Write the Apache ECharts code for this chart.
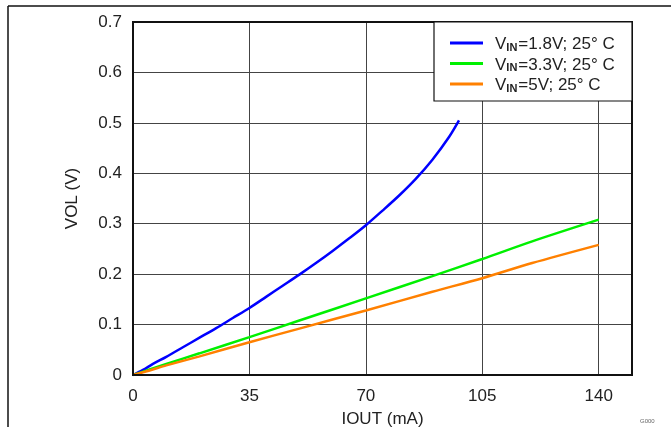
<!DOCTYPE html>
<html>
<head>
<meta charset="utf-8">
<script src="https://cdn.jsdelivr.net/npm/echarts@6/dist/echarts.min.js"></script>
<style>html,body{margin:0;padding:0;background:#fff}#c{width:671px;height:427px}</style>
</head>
<body>
<div id="c"></div>
<script>
const xTicks = [0, 35, 70, 105, 140];
const yTicks = [0, 0.1, 0.2, 0.3, 0.4, 0.5, 0.6, 0.7];
const seriesNames = ['VIN=1.8V; 25° C', 'VIN=3.3V; 25° C', 'VIN=5V; 25° C'];
const blueX = [0, 3, 6, 10, 15, 20, 25, 30, 35, 40, 45, 50, 55, 60, 65, 70, 75, 80, 85, 90, 95, 98];
const blueY = [0, 0.010, 0.022, 0.036, 0.055, 0.074, 0.093, 0.113, 0.133, 0.155, 0.177, 0.199, 0.222, 0.246, 0.271, 0.297, 0.326, 0.356, 0.389, 0.427, 0.472, 0.505];
const greenX = [0, 5, 10, 20, 35, 50, 70, 90, 105, 120, 140];
const greenY = [0, 0.011, 0.022, 0.043, 0.075, 0.108, 0.152, 0.196, 0.230, 0.265, 0.308];
const orangeX = [0, 5, 10, 20, 35, 50, 70, 90, 105, 120, 140];
const orangeY = [0, 0.009, 0.019, 0.037, 0.065, 0.092, 0.128, 0.165, 0.192, 0.222, 0.258];
const colors = ['#0000ff', '#00f000', '#ff8000'];

const zip = (xs, ys) => xs.map((x, i) => [x, ys[i]]);
const font = 'Liberation Sans, Arial, sans-serif';

const chart = echarts.init(document.getElementById('c'));
chart.setOption({
  animation: false,
  grid: { left: 133, right: 39, top: 22, bottom: 52, containLabel: false, outerBoundsMode: 'none' },
  xAxis: {
    type: 'value', min: 0, max: 150, interval: 35,
    name: 'IOUT (mA)', nameLocation: 'middle', nameGap: 36,
    nameTextStyle: { fontFamily: font, fontSize: 17, color: '#222' },
    axisLine: { show: false },
    axisTick: { show: false },
    axisLabel: { fontFamily: font, fontSize: 17, color: '#222', margin: 13,
      formatter: v => xTicks.includes(v) ? String(v) : '' },
    splitLine: { show: true, lineStyle: { color: '#444', width: 1 } }
  },
  yAxis: {
    type: 'value', min: 0, max: 0.7, interval: 0.1,
    name: 'VOL (V)', nameLocation: 'middle', nameGap: 52,
    nameTextStyle: { fontFamily: font, fontSize: 17, color: '#222' },
    axisLine: { show: false },
    axisTick: { show: false },
    axisLabel: { fontFamily: font, fontSize: 17, color: '#222', margin: 11,
      formatter: v => { const t = yTicks.find(y => Math.abs(y - v) < 1e-9); return t === undefined ? '' : (t === 0 ? '0' : t.toFixed(1)); } },
    splitLine: { show: true, lineStyle: { color: '#444', width: 1 } }
  },
  legend: {
    orient: 'vertical', left: 445, top: 31, z: 20,
    data: seriesNames,
    icon: 'rect', itemWidth: 33, itemHeight: 3, itemGap: 3.5,
    textStyle: { fontFamily: font, fontSize: 17, color: '#222',
      rich: {
        v0: { fontFamily: font, fontSize: 17, color: '#222', lineHeight: 20, verticalAlign: 'bottom', padding: [0, 0, 0, 7] },
        v: { fontFamily: font, fontSize: 17, color: '#222', lineHeight: 20, verticalAlign: 'bottom' },
        s: { fontFamily: font, fontSize: 11, fontWeight: 'bold', color: '#222', lineHeight: 20, verticalAlign: 'bottom', padding: [0, 1, 0, 0] }
      }
    },
    formatter: n => '{v0|V}{s|IN}{v|' + n.slice(3) + '}'
  },
  graphic: [
    { type: 'rect', z: 10, shape: { x: 434, y: 22, width: 198, height: 79 }, style: { fill: '#fff', stroke: '#111', lineWidth: 1.2 } },
    { type: 'rect', z: 9, shape: { x: 133, y: 22, width: 499, height: 353 }, style: { fill: 'none', stroke: '#111', lineWidth: 2 } },
    { type: 'line', shape: { x1: 8, y1: 6, x2: 671, y2: 6 }, style: { stroke: '#111', lineWidth: 1.5 } },
    { type: 'line', shape: { x1: 8, y1: 6, x2: 8, y2: 427 }, style: { stroke: '#111', lineWidth: 1.5 } },
    { type: 'text', x: 640, y: 418, style: { text: 'G000', fontSize: 6, fontFamily: font, fill: '#666' } }
  ],
  series: [
    { name: seriesNames[0], type: 'line', data: zip(blueX, blueY), showSymbol: false, smooth: 0.3, lineStyle: { color: colors[0], width: 2.5 }, itemStyle: { color: colors[0] } },
    { name: seriesNames[1], type: 'line', data: zip(greenX, greenY), showSymbol: false, smooth: 0.3, lineStyle: { color: colors[1], width: 2.5 }, itemStyle: { color: colors[1] } },
    { name: seriesNames[2], type: 'line', data: zip(orangeX, orangeY), showSymbol: false, smooth: 0.3, lineStyle: { color: colors[2], width: 2.5 }, itemStyle: { color: colors[2] } }
  ]
});
</script>
</body>
</html>
